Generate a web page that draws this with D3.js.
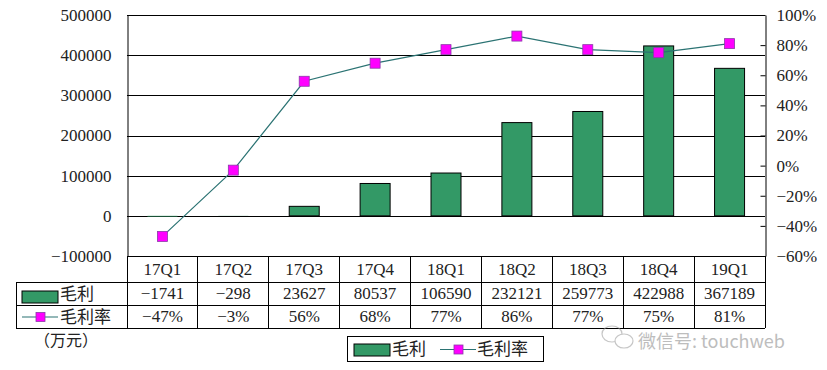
<!DOCTYPE html>
<html>
<head>
<meta charset="utf-8">
<title>毛利 / 毛利率</title>
<script src="https://d3js.org/d3.v7.min.js"></script>
<style>
  body { margin: 0; background: #fff; }
  text { font-family: "Liberation Serif", "Noto Sans CJK SC", serif; fill: #222; }
  .cn { font-family: "Noto Sans CJK SC", sans-serif; }
</style>
</head>
<body>
<div id="chart"></div>
<script>
// data
var quarters = ["17Q1", "17Q2", "17Q3", "17Q4", "18Q1", "18Q2", "18Q3", "18Q4", "19Q1"];
var profit = [-1741, -298, 23627, 80537, 106590, 232121, 259773, 422988, 367189];
var margin = [-47, -3, 56, 68, 77, 86, 77, 75, 81];
var leftTicks = [-100000, 0, 100000, 200000, 300000, 400000, 500000];
var rightTicks = [-60, -40, -20, 0, 20, 40, 60, 80, 100];

var W = 827, H = 370;
var barColor = "#339966", lineColor = "#2b7373", mark = "#ff00ff", markEdge = "#8a3aa8";

var svg = d3.select("#chart").append("svg")
    .attr("width", W).attr("height", H);

var x = d3.scaleBand().domain(quarters).range([127, 765]);
var yL = d3.scaleLinear().domain([-100000, 500000]).range([256, 15]);
var yR = d3.scaleLinear().domain([-60, 100]).range([256, 15]);

function minus(s) { return String(s).replace("-", "−"); }

// gridlines
svg.append("g").selectAll("line")
  .data(leftTicks).enter().append("line")
    .attr("x1", 127).attr("x2", 765)
    .attr("y1", function(d) { return Math.round(yL(d)) + 0.5; })
    .attr("y2", function(d) { return Math.round(yL(d)) + 0.5; })
    .attr("stroke", "#000");

// bars (the tiny negative ones vanish into the zero line, as in the original)
var bw = 30;
svg.append("g").selectAll("rect")
  .data(profit).enter().append("rect")
    .attr("x", function(d, i) { return x(quarters[i]) + x.bandwidth() / 2 - bw / 2; })
    .attr("y", function(d) { return yL(Math.max(d, 0)); })
    .attr("width", bw)
    .attr("height", function(d) { return Math.abs(yL(d) - yL(0)); })
    .attr("fill", barColor)
    .attr("stroke", function(d) { return Math.abs(yL(d) - yL(0)) > 2 ? "#000" : "none"; })
    .attr("stroke-width", 1);

// axes
var axL = svg.append("g").attr("transform", "translate(127.5,0)")
    .call(d3.axisLeft(yL).tickValues(leftTicks).tickSize(0).tickPadding(16)
      .tickFormat(function(d) { return minus(d); }));
axL.select(".domain").attr("stroke", "#000");
axL.selectAll("text").style("font-size", "17px").attr("fill", "#222");

var axR = svg.append("g").attr("transform", "translate(765.5,0)")
    .call(d3.axisRight(yR).tickValues(rightTicks).tickSizeInner(-5).tickSizeOuter(0).tickPadding(11)
      .tickFormat(function(d) { return minus(d) + "%"; }));
axR.select(".domain").attr("stroke", "#000");
axR.selectAll("line").attr("stroke", "#000");
axR.selectAll("text").style("font-size", "17px").attr("fill", "#222");

// margin line
var line = d3.line()
    .x(function(d, i) { return x(quarters[i]) + x.bandwidth() / 2; })
    .y(function(d) { return yR(d); });
svg.append("path").datum(margin)
    .attr("d", line).attr("fill", "none")
    .attr("stroke", lineColor).attr("stroke-width", 1.2);
svg.append("g").selectAll("rect")
  .data(margin).enter().append("rect")
    .attr("x", function(d, i) { return x(quarters[i]) + x.bandwidth() / 2 - 5; })
    .attr("y", function(d) { return yR(d) - 5; })
    .attr("width", 10).attr("height", 10)
    .attr("fill", mark).attr("stroke", markEdge).attr("stroke-width", 0.8);

// data table
var rows = [256, 282, 305, 328];
var tb = svg.append("g").attr("stroke", "#000").attr("shape-rendering", "crispEdges");
tb.append("line").attr("x1", 127).attr("x2", 765).attr("y1", rows[0]).attr("y2", rows[0]);
rows.slice(1).forEach(function(r) {
  tb.append("line").attr("x1", 16).attr("x2", 765).attr("y1", r).attr("y2", r);
});
var cols = quarters.map(function(q) { return x(q); }).concat([765]);
cols.forEach(function(c) {
  tb.append("line").attr("x1", c).attr("x2", c).attr("y1", rows[0]).attr("y2", rows[3]);
});
tb.append("line").attr("x1", 16).attr("x2", 16).attr("y1", rows[1]).attr("y2", rows[3]);

var cell = svg.append("g").style("font-size", "17px").attr("text-anchor", "middle");
quarters.forEach(function(q, i) {
  var cx = x(q) + x.bandwidth() / 2;
  cell.append("text").attr("x", cx).attr("y", 275).text(q);
  cell.append("text").attr("x", cx).attr("y", 299).text(minus(profit[i]));
  cell.append("text").attr("x", cx).attr("y", 322).text(minus(margin[i]) + "%");
});

// row keys
function barKey(g, px, py) {
  g.append("rect").attr("x", px).attr("y", py).attr("width", 36).attr("height", 12)
    .attr("fill", barColor).attr("stroke", "#000").attr("stroke-width", 1);
}
function lineKey(g, px, py) {
  g.append("line").attr("x1", px).attr("x2", px + 36).attr("y1", py).attr("y2", py)
    .attr("stroke", lineColor).attr("stroke-width", 1.2);
  g.append("rect").attr("x", px + 14).attr("y", py - 4.5).attr("width", 9).attr("height", 9)
    .attr("fill", mark).attr("stroke", markEdge).attr("stroke-width", 0.8);
}
var keys = svg.append("g");
barKey(keys, 22, 291);
keys.append("text").attr("class", "cn").attr("x", 60).attr("y", 300).style("font-size", "17px").text("毛利");
lineKey(keys, 22, 317);
keys.append("text").attr("class", "cn").attr("x", 60).attr("y", 323).style("font-size", "17px").text("毛利率");

// unit
svg.append("text").attr("class", "cn").attr("x", 34).attr("y", 346).style("font-size", "16px").text("（万元）");

// legend
var lg = svg.append("g");
lg.append("rect").attr("x", 347.5).attr("y", 336.5).attr("width", 196).attr("height", 25)
  .attr("fill", "#fff").attr("stroke", "#000");
barKey(lg, 354, 344);
lg.append("text").attr("class", "cn").attr("x", 392).attr("y", 355).style("font-size", "17px").text("毛利");
lineKey(lg, 440, 349.5);
lg.append("text").attr("class", "cn").attr("x", 477).attr("y", 355).style("font-size", "17px").text("毛利率");

// watermark
var wm = svg.append("g").attr("opacity", 0.55);
wm.append("ellipse").attr("cx", 612).attr("cy", 334).attr("rx", 10).attr("ry", 8)
  .attr("fill", "none").attr("stroke", "#999").attr("stroke-width", 1.2);
wm.append("ellipse").attr("cx", 624).attr("cy", 341).attr("rx", 9).attr("ry", 7)
  .attr("fill", "#fff").attr("stroke", "#999").attr("stroke-width", 1.2);
wm.append("text").attr("class", "cn").attr("x", 638).attr("y", 348)
  .style("font-size", "18px").style("fill", "#888")
  .text("微信号: touchweb");
</script>
</body>
</html>
